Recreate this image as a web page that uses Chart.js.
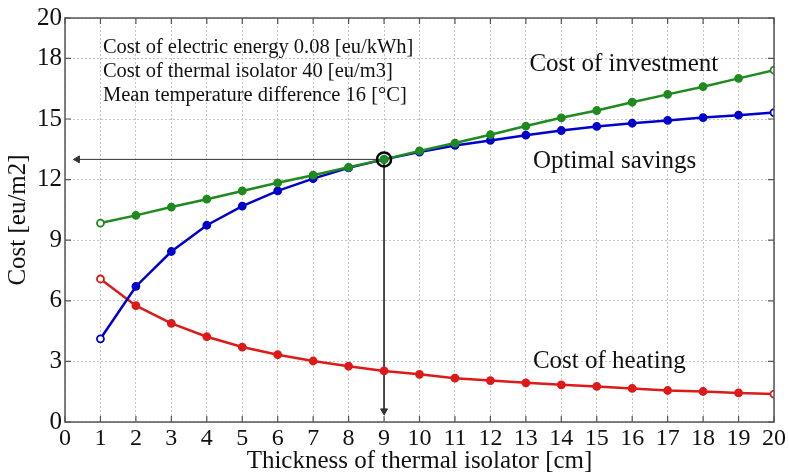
<!DOCTYPE html>
<html>
<head>
<meta charset="utf-8">
<script src="https://cdn.jsdelivr.net/npm/chart.js@4.4.1/dist/chart.umd.min.js"></script>
<style>
  body { margin: 0; background: #fff; }
</style>
</head>
<body>
<canvas id="myChart" width="789" height="476"></canvas>
<script>
// values
const thickness = [1, 2, 3, 4, 5, 6, 7, 8, 9, 10, 11, 12, 13, 14, 15, 16, 17, 18, 19, 20];
const investmentCost = [9.85, 10.23, 10.64, 11.03, 11.44, 11.84, 12.22, 12.61, 13.0, 13.42, 13.81, 14.22, 14.65, 15.06, 15.42, 15.83, 16.22, 16.6, 17.01, 17.42];
const savings = [4.12, 6.71, 8.44, 9.74, 10.69, 11.44, 12.05, 12.58, 13.0, 13.36, 13.69, 13.94, 14.2, 14.43, 14.63, 14.79, 14.93, 15.07, 15.19, 15.32];
const heatingCost = [7.08, 5.76, 4.88, 4.22, 3.71, 3.33, 3.02, 2.76, 2.53, 2.36, 2.17, 2.05, 1.94, 1.84, 1.76, 1.66, 1.56, 1.51, 1.44, 1.38];
const yTicks = [0, 3, 6, 9, 12, 15, 18, 20];
const optimum = { x: 9, y: 13 };

const infoLines = [
    'Cost of electric energy 0.08 [eu/kWh]',
    'Cost of thermal isolator 40 [eu/m3]',
    'Mean temperature difference 16 [°C]'
];
const curveLabels = [
    { text: 'Cost of investment', x: 13.1, y: 17.7 },
    { text: 'Optimal savings', x: 13.2, y: 12.9 },
    { text: 'Cost of heating', x: 13.2, y: 3.0 }
];

const serif = 'Liberation Serif, Times New Roman, serif';

function toPoints(values) {
    return thickness.map((t, i) => ({ x: t, y: values[i] }));
}

function endsHollow(color) {
    return thickness.map((t, i) => (i === 0 || i === thickness.length - 1) ? '#ffffff' : color);
}

function curve(label, values, color, order) {
    return {
        label: label,
        data: toPoints(values),
        showLine: true,
        borderColor: color,
        borderWidth: 2.5,
        pointRadius: 3.5,
        pointBorderWidth: 1.8,
        pointBorderColor: color,
        pointBackgroundColor: endsHollow(color),
        order: order
    };
}

const textPlugin = {
    id: 'textPlugin',
    afterDatasetsDraw(chart) {
        const ctx = chart.ctx;
        const x = chart.scales.x;
        const y = chart.scales.y;
        ctx.save();
        ctx.fillStyle = '#111';
        ctx.textBaseline = 'middle';
        ctx.textAlign = 'left';
        ctx.font = '20.5px ' + serif;
        infoLines.forEach((line, i) => {
            ctx.fillText(line, x.getPixelForValue(1.07), y.getPixelForValue(18.55 - i * 1.2));
        });
        ctx.font = '25px ' + serif;
        curveLabels.forEach(l => {
            ctx.fillText(l.text, x.getPixelForValue(l.x), y.getPixelForValue(l.y));
        });
        ctx.restore();
    }
};

const framePlugin = {
    id: 'framePlugin',
    afterDraw(chart) {
        const ctx = chart.ctx;
        const a = chart.chartArea;
        const x = chart.scales.x;
        const y = chart.scales.y;
        ctx.save();
        ctx.strokeStyle = '#555';
        ctx.lineWidth = 1.2;
        ctx.beginPath();
        x.ticks.forEach(t => {
            const px = x.getPixelForValue(t.value);
            ctx.moveTo(px, a.bottom); ctx.lineTo(px, a.bottom - 6);
            ctx.moveTo(px, a.top); ctx.lineTo(px, a.top + 6);
        });
        y.ticks.forEach(t => {
            const py = y.getPixelForValue(t.value);
            ctx.moveTo(a.left, py); ctx.lineTo(a.left + 6, py);
            ctx.moveTo(a.right, py); ctx.lineTo(a.right - 6, py);
        });
        ctx.stroke();
        ctx.lineWidth = 1.5;
        ctx.strokeRect(a.left, a.top, a.right - a.left, a.bottom - a.top);
        ctx.restore();
    }
};

document.addEventListener("DOMContentLoaded", function () {
    const ctx = document.getElementById('myChart').getContext('2d');

    new Chart(ctx, {
        type: 'scatter',
        data: {
            datasets: [
                {
                    label: 'optimum',
                    data: [optimum],
                    pointRadius: 7,
                    pointBorderWidth: 2.5,
                    pointBorderColor: '#000',
                    pointBackgroundColor: 'rgba(0,0,0,0)',
                    order: 0
                },
                curve('Cost of investment', investmentCost, '#1f8a1f', 1),
                curve('Optimal savings', savings, '#0000cc', 2),
                curve('Cost of heating', heatingCost, '#dd1a1a', 3),
                {
                    label: 'arrow x',
                    data: [optimum, { x: 0.35, y: optimum.y }],
                    showLine: true,
                    borderColor: '#333',
                    borderWidth: 1,
                    pointStyle: 'triangle',
                    pointRadius: [0, 4],
                    pointRotation: -90,
                    pointBackgroundColor: '#333',
                    pointBorderColor: '#333',
                    pointBorderWidth: 1,
                    order: 4
                },
                {
                    label: 'arrow y',
                    data: [optimum, { x: optimum.x, y: 0.55 }],
                    showLine: true,
                    borderColor: '#333',
                    borderWidth: 1,
                    pointStyle: 'triangle',
                    pointRadius: [0, 4],
                    pointRotation: 180,
                    pointBackgroundColor: '#333',
                    pointBorderColor: '#333',
                    pointBorderWidth: 1,
                    order: 4
                }
            ]
        },
        options: {
            responsive: false,
            animation: false,
            layout: { padding: { top: 17, right: 15, left: 0, bottom: 0 } },
            plugins: {
                legend: { display: false },
                tooltip: { enabled: false }
            },
            scales: {
                x: {
                    type: 'linear',
                    min: 0,
                    max: 20,
                    ticks: { stepSize: 1, color: '#111', font: { family: serif, size: 24 }, padding: 2, maxRotation: 0, autoSkip: false },
                    grid: { color: '#c4c4c4', lineWidth: 1, drawTicks: false },
                    border: { display: false, dash: [2, 2] },
                    title: { display: true, text: 'Thickness of thermal isolator [cm]', color: '#111', font: { family: serif, size: 25 }, padding: { top: 0, bottom: 0 } },
                    afterFit(scale) { scale.height = 54; }
                },
                y: {
                    type: 'linear',
                    min: 0,
                    max: 20,
                    ticks: { color: '#111', font: { family: serif, size: 25 }, padding: 3 },
                    afterBuildTicks(scale) { scale.ticks = yTicks.map(v => ({ value: v })); },
                    grid: { color: '#c4c4c4', lineWidth: 1, drawTicks: false },
                    border: { display: false, dash: [2, 2] },
                    title: { display: true, text: 'Cost [eu/m2]', color: '#111', font: { family: serif, size: 25 }, padding: { top: 3, bottom: 0 } },
                    afterFit(scale) { scale.width = 65; }
                }
            }
        },
        plugins: [textPlugin, framePlugin]
    });
});
</script>
</body>
</html>
